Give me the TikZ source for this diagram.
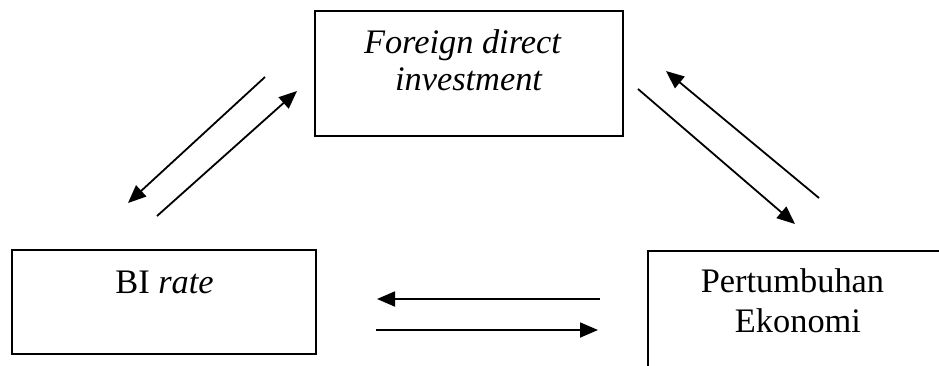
\documentclass[tikz,border=0pt]{standalone}
\usepackage{fontspec}
\setmainfont{Liberation Serif}
\usetikzlibrary{arrows.meta}
\begin{document}
\begin{tikzpicture}[x=1bp,y=-1bp,
  boxshape/.style={draw=black,line width=1.8bp,inner sep=0pt},
  lbl/.style={inner sep=0pt,anchor=base,font=\fontsize{34.5}{40}\selectfont},
  arr/.style={line width=1.8bp,-{Triangle[length=18bp,width=15bp]}}]
\useasboundingbox (0,0) rectangle (939,365);
\clip (0,0) rectangle (939,365);
% boxes
\node[boxshape,minimum width=308bp,minimum height=125bp] (fdi) at (469,73.5) {};
\node[boxshape,minimum width=304bp,minimum height=104bp] (bi) at (164,302) {};
\node[boxshape,minimum width=310bp,minimum height=140bp,anchor=north west] (pe) at (647,250) {};
% texts
\node[lbl] (t1) at (462.5,53) {\itshape Foreign direct};
\node[lbl] (t2) at (468.5,90) {\itshape investment};
\node[lbl] (t3) at (164.5,293) {BI \itshape rate};
\node[lbl] (t4) at (792.5,292) {Pertumbuhan};
\node[lbl] (t5) at (798,332) {Ekonomi};
% arrow end points
\coordinate (a1s) at (265,77);  \coordinate (a1e) at (128,203);
\coordinate (a2s) at (157,216); \coordinate (a2e) at (297,91);
\coordinate (b1s) at (819,198); \coordinate (b1e) at (666,71);
\coordinate (b2s) at (638,89);  \coordinate (b2e) at (795,224);
\coordinate (c1s) at (600,299); \coordinate (c1e) at (377,299);
\coordinate (c2s) at (376,330); \coordinate (c2e) at (598,330);
\draw[arr] (a1s) -- (a1e);
\draw[arr] (a2s) -- (a2e);
\draw[arr] (b1s) -- (b1e);
\draw[arr] (b2s) -- (b2e);
\draw[arr] (c1s) -- (c1e);
\draw[arr] (c2s) -- (c2e);
\end{tikzpicture}
\end{document}
